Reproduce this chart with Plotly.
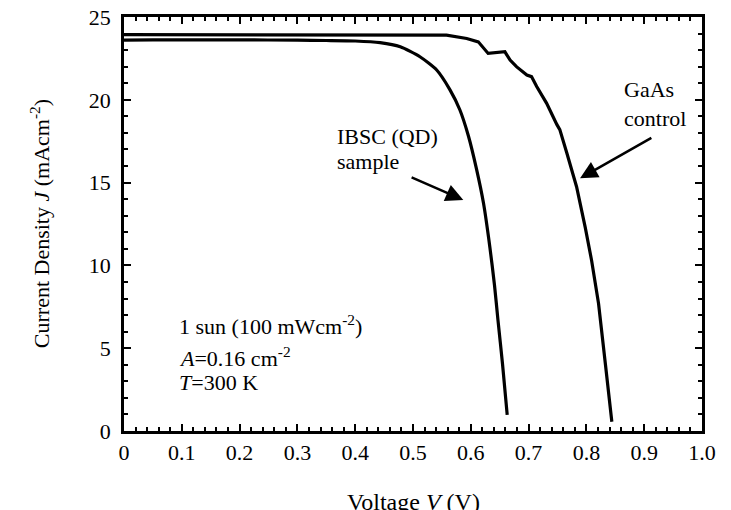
import plotly.graph_objects as go

# ---- data ----
ibsc_v = [0.0, 0.05, 0.1, 0.2, 0.3, 0.35, 0.4, 0.443, 0.478, 0.512, 0.541, 0.564,
          0.581, 0.596, 0.610, 0.622, 0.633, 0.641, 0.647, 0.655, 0.663]
ibsc_j = [23.6, 23.62, 23.62, 23.62, 23.6, 23.58, 23.55, 23.45, 23.2, 22.6, 21.8, 20.6,
          19.4, 17.8, 15.8, 13.75, 11.1, 8.8, 6.7, 4.0, 0.97]

gaas_v = [0.0, 0.1, 0.2, 0.3, 0.4, 0.5, 0.558, 0.593, 0.613, 0.630, 0.642, 0.659,
          0.668, 0.679, 0.697, 0.705, 0.714, 0.731, 0.749, 0.754, 0.766, 0.783,
          0.798, 0.809, 0.821, 0.824, 0.833, 0.844]
gaas_j = [23.94, 23.94, 23.94, 23.93, 23.92, 23.92, 23.9, 23.7, 23.5, 22.8, 22.85, 22.9,
          22.4, 22.0, 21.5, 21.4, 20.8, 19.8, 18.5, 18.2, 16.8, 14.75,
          12.3, 10.3, 7.7, 6.7, 4.0, 0.56]

x_tickvals = [0, 0.1, 0.2, 0.3, 0.4, 0.5, 0.6, 0.7, 0.8, 0.9, 1.0]
x_ticktext = ["0", "0.1", "0.2", "0.3", "0.4", "0.5", "0.6", "0.7", "0.8", "0.9", "1.0"]
y_tickvals = [0, 5, 10, 15, 20, 25]
y_ticktext = ["0", "5", "10", "15", "20", "25"]

FONT = "Liberation Serif"

fig = go.Figure()
fig.add_trace(go.Scatter(x=ibsc_v, y=ibsc_j, mode="lines", name="IBSC (QD) sample",
                         line=dict(color="black", width=3.2, shape="spline", smoothing=0.6)))
fig.add_trace(go.Scatter(x=gaas_v, y=gaas_j, mode="lines", name="GaAs control",
                         line=dict(color="black", width=3.2)))

axis_common = dict(showline=True, linecolor="black", linewidth=2.5, mirror="ticks",
                   ticks="inside", ticklen=7, tickwidth=2, tickcolor="black",
                   showgrid=False, zeroline=False, automargin=False,
                   tickfont=dict(family=FONT, size=22, color="black"))

fig.update_xaxes(range=[0, 1], tickvals=x_tickvals, ticktext=x_ticktext,
                 minor=dict(dtick=0.02, ticks="inside", ticklen=4, tickwidth=2,
                            tickcolor="black", showgrid=False),
                 **axis_common)
fig.update_yaxes(range=[0, 25], tickvals=y_tickvals, ticktext=y_ticktext,
                 ticklabelstandoff=6,
                 minor=dict(dtick=1, ticks="inside", ticklen=4, tickwidth=2,
                            tickcolor="black", showgrid=False),
                 **axis_common)

tf = dict(family=FONT, size=22, color="black")
ann = []
def txt(x, y, s, xanchor="left"):
    ann.append(dict(x=x, y=y, xref="x", yref="y", text=s, showarrow=False,
                    xanchor=xanchor, yanchor="middle", font=tf))

txt(0.365, 17.8, "IBSC (QD)")
txt(0.365, 16.3, "sample")
txt(0.862, 20.6, "GaAs")
txt(0.862, 18.9, "control")
txt(0.092, 6.4, "1 sun (100 mWcm<sup>-2</sup>)")
txt(0.092, 4.47, "<i>A</i>=0.16 cm<sup>-2</sup>")
txt(0.092, 2.9, "<i>T</i>=300 K")

# arrows
ann.append(dict(x=0.587, y=13.95, ax=0.495, ay=15.36, xref="x", yref="y",
                axref="x", ayref="y", showarrow=True, arrowhead=2, arrowsize=1.4,
                arrowwidth=2.5, arrowcolor="black", text=""))
ann.append(dict(x=0.789, y=15.26, ax=0.915, ay=17.75, xref="x", yref="y",
                axref="x", ayref="y", showarrow=True, arrowhead=2, arrowsize=1.4,
                arrowwidth=2.5, arrowcolor="black", text=""))

# axis titles
ann.append(dict(x=0.5, y=-0.135, xref="paper", yref="paper", showarrow=False,
                text="Voltage <i>V</i> (V)", xanchor="center", yanchor="top",
                font=dict(family=FONT, size=24, color="black")))
ann.append(dict(x=-0.145, y=0.5, xref="paper", yref="paper", showarrow=False,
                text="Current Density <i>J</i> (mAcm<sup>-2</sup>)", textangle=-90,
                xanchor="center", yanchor="middle", font=tf))

fig.update_layout(width=731, height=510, margin=dict(l=124, r=29, t=17, b=79),
                  paper_bgcolor="white", plot_bgcolor="white", showlegend=False,
                  annotations=ann, font=dict(family=FONT, color="black"))

fig.write_html("out.html")
